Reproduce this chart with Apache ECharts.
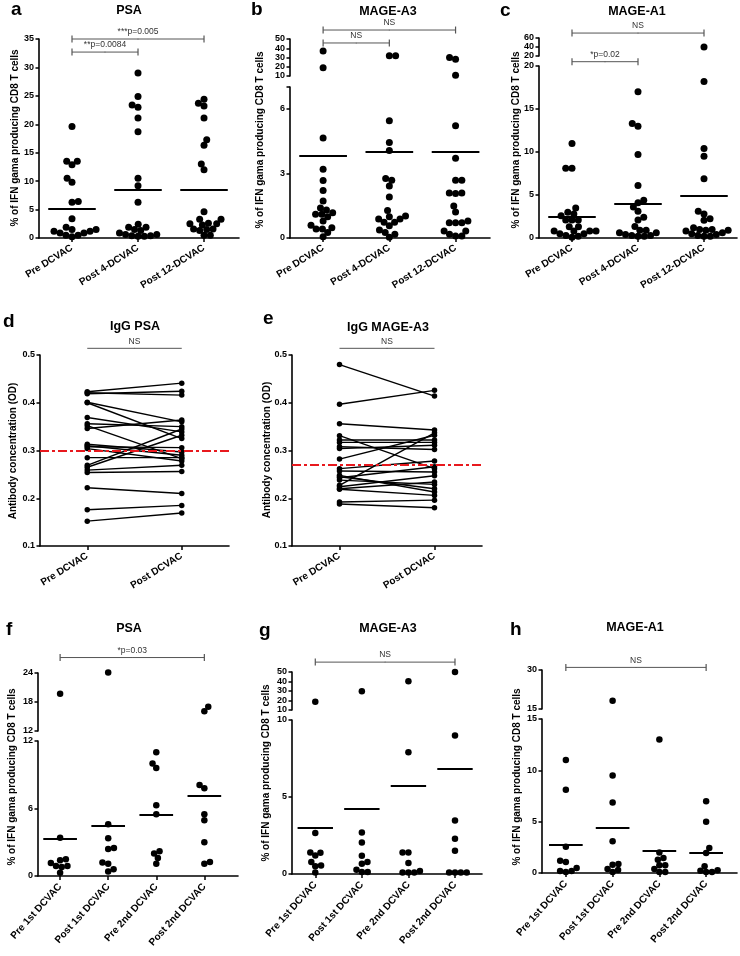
<!DOCTYPE html>
<html><head><meta charset="utf-8">
<script src="https://cdn.jsdelivr.net/npm/echarts@6/dist/echarts.min.js"></script>
<style>html,body{margin:0;padding:0;background:#fff}#c{width:740px;height:956px}</style>
</head><body><div id="c"></div>
<script>
// ---------------- DATA ----------------
const catsTop = ['Pre DCVAC', 'Post 4-DCVAC', 'Post 12-DCVAC'];
const catsMid = ['Pre DCVAC', 'Post DCVAC'];
const catsBot = ['Pre 1st DCVAC', 'Post 1st DCVAC', 'Pre 2nd DCVAC', 'Post 2nd DCVAC'];

// a: PSA
const aPre    = [19.6, 13.5, 12.9, 13.5, 10.5, 9.8, 6.4, 6.3, 3.4, 1.9, 1.5, 1.2, 0.9, 0.5, 0.2, 0.5, 0.9, 1.2, 1.5];
const aPost4  = [29.0, 24.9, 23.4, 23.0, 21.1, 18.7, 10.5, 9.2, 6.3, 2.4, 1.9, 1.9, 1.5, 0.9, 0.6, 0.4, 0.3, 0.3, 0.4, 0.6, 1.3];
const aPost12 = [24.4, 23.7, 23.2, 21.1, 17.3, 16.3, 13.0, 12.0, 4.6, 3.3, 3.3, 2.6, 2.5, 2.5, 2.3, 1.6, 1.5, 1.6, 1.3, 0.5, 0.5];
const aMeans  = [5.1, 8.5, 8.5];
const aTicks  = [0, 5, 10, 15, 20, 25, 30, 35];
const aBrackets = [[0, 2, 35, '***p=0.005'], [0, 1, 32.7, '**p=0.0084']];

// b: MAGE-A3
const bPre    = [37, 19, 4.64, 3.19, 2.67, 2.2, 1.71, 1.39, 1.3, 1.1, 0.99, 1.1, 1.17, 0.59, 0.48, 0.42, 0.42, 0.79, 0.26, 0.06];
const bPost4  = [32, 32, 5.43, 4.43, 4.06, 2.76, 2.68, 2.41, 1.9, 1.27, 0.88, 0.73, 0.99, 1.02, 0.88, 0.57, 0.73, 0.37, 0.25, 0.03, 0.17];
const bPost12 = [28, 30, 10.8, 5.2, 3.7, 2.68, 2.68, 2.09, 2.06, 2.09, 1.48, 1.2, 0.79, 0.71, 0.71, 0.71, 0.32, 0.17, 0.09, 0.09, 0.32];
const bMeans  = [3.83, 4.02, 4.02];
const bUpperTicks = [10, 20, 30, 40, 50];
const bLowerTicks = [0, 3, 6, 7];
const bLowerLabels = [0, 3, 6];
const bBrackets = [[0, 2, 59.7, 'NS', 'u'], [0, 1, 45.7, 'NS', 'u']];

// c: MAGE-A1
const cPre    = [11.0, 8.1, 8.1, 3.5, 3.0, 2.8, 2.6, 2.1, 2.1, 2.1, 1.3, 1.3, 0.8, 0.8, 0.8, 0.8, 0.5, 0.5, 0.3, 0.2, 0.1];
const cPost4  = [17.0, 13.3, 13.0, 9.7, 6.1, 4.4, 4.1, 3.6, 3.1, 2.4, 2.1, 1.35, 0.9, 0.9, 0.6, 0.6, 0.4, 0.3, 0.2, 0.2, 0.3];
const cPost12 = [40, 18.2, 10.4, 9.5, 6.9, 3.1, 2.8, 2.25, 2.05, 1.2, 1.0, 1.0, 0.9, 0.9, 0.8, 0.6, 0.5, 0.4, 0.3, 0.2, 0.2];
const cMeans  = [2.45, 4.0, 4.9];
const cUpperTicks = [20, 40, 60];
const cLowerTicks = [0, 5, 10, 15, 20];
const cBrackets = [[0, 2, 71, 'NS', 'u'], [0, 1, 20.5, '*p=0.02', 'l']];

// d: IgG PSA (paired)
const dPre  = [0.423, 0.421, 0.419, 0.401, 0.400, 0.369, 0.356, 0.352, 0.346, 0.313, 0.310, 0.308, 0.304, 0.285, 0.269, 0.265, 0.259, 0.254, 0.222, 0.176, 0.152];
const dPost = [0.441, 0.416, 0.424, 0.360, 0.325, 0.339, 0.350, 0.283, 0.364, 0.297, 0.290, 0.306, 0.278, 0.285, 0.345, 0.332, 0.269, 0.256, 0.210, 0.185, 0.169];
const dCut  = 0.303;
// e: IgG MAGE-A3 (paired)
const ePre  = [0.480, 0.397, 0.356, 0.331, 0.322, 0.317, 0.308, 0.304, 0.282, 0.262, 0.257, 0.248, 0.243, 0.238, 0.227, 0.224, 0.220, 0.219, 0.192, 0.188, 0.245];
const ePost = [0.414, 0.426, 0.343, 0.262, 0.322, 0.317, 0.302, 0.311, 0.332, 0.278, 0.255, 0.213, 0.266, 0.229, 0.337, 0.247, 0.234, 0.206, 0.196, 0.180, 0.220];
const eCut  = 0.265;
const odTicks = [0.1, 0.2, 0.3, 0.4, 0.5];
const nsPairY = 0.514;

// f: PSA (4 time points)
const fPre1  = [19.7, 3.4, 1.4, 1.5, 1.15, 0.9, 0.8, 0.9, 0.3];
const fPost1 = [24.1, 4.6, 3.35, 2.4, 2.5, 1.1, 1.2, 0.4, 0.6];
const fPre2  = [11.0, 9.6, 10.0, 6.3, 5.5, 2.2, 2.0, 1.6, 1.1];
const fPost2 = [16.1, 17.0, 8.1, 7.8, 5.5, 4.95, 3.0, 1.1, 1.25];
const fMeans = [3.3, 4.47, 5.48, 7.17];
const fUpperTicks = [12, 18, 24];
const fLowerTicks = [0, 6, 12];
const fBrackets = [[0, 3, 27.2, '*p=0.03', 'u']];

// g: MAGE-A3 (4 time points)
const gPre1  = [18.7, 2.66, 1.4, 1.38, 1.2, 0.78, 0.56, 0.5, 0.1];
const gPost1 = [29.8, 2.7, 2.05, 1.19, 0.78, 0.67, 0.28, 0.13, 0.13];
const gPre2  = [40.3, 7.9, 1.4, 1.4, 0.71, 0.1, 0.1, 0.1, 0.2];
const gPost2 = [50, 9.0, 3.48, 2.29, 1.51, 0.1, 0.1, 0.1, 0.1];
const gMeans = [2.98, 4.21, 5.75, 6.84];
const gUpperTicks = [10, 20, 30, 40, 50];
const gLowerTicks = [0, 5, 10];
const gBrackets = [[0, 3, 60.4, 'NS', 'u']];

// h: MAGE-A1 (4 time points)
const hPre1  = [11.0, 8.1, 2.56, 1.2, 1.07, 0.49, 0.2, 0.1, 0.2];
const hPost1 = [18.2, 9.5, 6.87, 3.1, 0.87, 0.8, 0.39, 0.1, 0.3];
const hPre2  = [13.0, 2.0, 1.46, 1.3, 0.75, 0.75, 0.39, 0.1, 0.1];
const hPost2 = [7.0, 5.0, 2.43, 1.95, 0.65, 0.1, 0.1, 0.26, 0.23];
const hMeans = [2.79, 4.44, 2.2, 1.94];
const hUpperTicks = [15, 30];
const hLowerTicks = [0, 5, 10, 15];
const hBrackets = [[0, 3, 31, 'NS', 'u']];

const yLabelT = '% of IFN gama producing CD8 T cells';
const yLabelOD = 'Antibody concentration (OD)';

// ---------------- BUILD ----------------
const FF = '"Liberation Sans", Arial, Helvetica, sans-serif';
const grids = [], xAxes = [], yAxes = [], series = [], graphics = [];

function addGrid(left, top, width, height, xCfg, yCfg) {
  const gi = grids.length;
  grids.push({ left, top, width, height, containLabel: false, outerBoundsMode: 'none' });
  xAxes.push(Object.assign({ gridIndex: gi, type: 'value' }, xCfg));
  yAxes.push(Object.assign({ gridIndex: gi, type: 'value' }, yCfg));
  return gi;
}
function xAxisCfg(min, max, cats, rotate, show) {
  const vals = cats.map((c, i) => i);
  return {
    min, max, show,
    axisLine: { show: true, onZero: false, lineStyle: { color: '#000', width: 1.6 } },
    axisTick: { show: true, customValues: vals, length: 4, lineStyle: { color: '#000', width: 1.5 } },
    axisLabel: { show: true, customValues: vals, formatter: v => cats[Math.round(v)], rotate, margin: 9,
      color: '#000', fontSize: 10, fontWeight: 'bold', fontFamily: FF },
    splitLine: { show: false }
  };
}
function yAxisCfg(min, max, ticks, labels, fmt) {
  return {
    min, max,
    axisLine: { show: true, onZero: false, lineStyle: { color: '#000', width: 1.6 } },
    axisTick: { show: true, customValues: ticks, length: 3.5, lineStyle: { color: '#000', width: 1.5 } },
    axisLabel: { show: true, customValues: labels, formatter: fmt || (v => String(v)), margin: 5,
      color: '#000', fontSize: 9, fontWeight: 'bold', fontFamily: FF },
    splitLine: { show: false }
  };
}
function swarm(pys, D) {
  const idx = pys.map((p, i) => i).sort((a, b) => pys[b] - pys[a]);
  const placed = [], res = new Array(pys.length).fill(0);
  let side = 1;
  for (const i of idx) {
    const y = pys[i];
    const cands = [0];
    for (const p of placed) {
      const dy = Math.abs(p.y - y);
      if (dy < D) { const h = Math.sqrt(D * D - dy * dy); cands.push(p.x + h, p.x - h); }
    }
    const ok = cands.filter(x => placed.every(p => (p.x - x) ** 2 + (p.y - y) ** 2 >= D * D - 1e-6));
    ok.sort((a, b) => {
      const d = Math.abs(a) - Math.abs(b);
      if (Math.abs(d) > 1e-6) return d;
      return side > 0 ? b - a : a - b;
    });
    const x = ok[0];
    if (Math.abs(x) > 1e-6) side = x > 0 ? -1 : 1;
    res[i] = x; placed.push({ x, y });
  }
  return res;
}
function addBracket(gi, from, to, y, text, ends) {
  const endSym = ends ? { symbol: 'rect', symbolSize: [1.2, 7] } : { symbol: 'none' };
  series.push({
    type: 'line', xAxisIndex: gi, yAxisIndex: gi, clip: false, silent: true, z: 5, animation: false,
    lineStyle: { color: '#555', width: 1 }, itemStyle: { color: '#555', opacity: 1 }, label: { show: false },
    data: [
      Object.assign({ value: [from, y] }, endSym),
      { value: [(from + to) / 2, y], symbol: 'circle', symbolSize: 1,
        label: { show: true, position: 'top', distance: 2, formatter: text, color: '#333', fontSize: 8.5, fontFamily: FF } },
      Object.assign({ value: [to, y] }, endSym)
    ]
  });
}
function scatterPanel(P) {
  const lo = P.lower, up = P.upper;
  let giU = null;
  if (up) giU = addGrid(P.left, up.top, P.width, up.height,
    xAxisCfg(P.xMin, P.xMax, P.cats, P.rotate, false), yAxisCfg(up.min, up.max, up.ticks, up.labels || up.ticks));
  const giL = addGrid(P.left, lo.top, P.width, lo.height,
    xAxisCfg(P.xMin, P.xMax, P.cats, P.rotate, true), yAxisCfg(lo.min, lo.max, lo.ticks, lo.labels || lo.ticks));
  const pxPerX = P.width / (P.xMax - P.xMin);
  const ptsL = [], ptsU = [];
  P.groups.forEach((vals, g) => {
    const isUp = v => !!up && v > lo.max;
    const py = vals.map(v => isUp(v)
      ? up.top + up.height - (v - up.min) / (up.max - up.min) * up.height
      : lo.top + lo.height - (v - lo.min) / (lo.max - lo.min) * lo.height);
    const dx = swarm(py, P.size * 0.9);
    vals.forEach((v, k) => { (isUp(v) ? ptsU : ptsL).push([g + dx[k] / pxPerX, v]); });
  });
  const meanLines = P.means.map((m, i) => [{ coord: [i - P.half, m] }, { coord: [i + P.half, m] }]);
  const sc = { type: 'scatter', symbolSize: P.size, itemStyle: { color: '#000', opacity: 1 }, clip: false, silent: true, animation: false };
  series.push(Object.assign({}, sc, { xAxisIndex: giL, yAxisIndex: giL, data: ptsL,
    markLine: { silent: true, animation: false, symbol: ['none', 'none'], label: { show: false },
      lineStyle: { color: '#000', width: 2, type: 'solid', opacity: 1 }, data: meanLines } }));
  if (up) series.push(Object.assign({}, sc, { xAxisIndex: giU, yAxisIndex: giU, data: ptsU }));
  P.brackets.forEach(b => addBracket(b[4] === 'u' ? giU : giL, b[0], b[1], b[2], b[3], true));
}
function pairedPanel(P) {
  const gi = addGrid(P.left, P.top, P.width, P.height, xAxisCfg(-0.5, 1.5, catsMid, 32, true),
    yAxisCfg(0.1, 0.5, odTicks, odTicks, v => v.toFixed(1)));
  P.pre.forEach((v, i) => series.push({
    type: 'line', xAxisIndex: gi, yAxisIndex: gi, data: [[0, v], [1, P.post[i]]], symbol: 'circle', symbolSize: 5.5,
    lineStyle: { color: '#000', width: 1.4 }, itemStyle: { color: '#000', opacity: 1 }, silent: true, animation: false
  }));
  series.push({
    type: 'line', xAxisIndex: gi, yAxisIndex: gi, data: [[0, P.cut]], symbol: 'none', z: 10, silent: true, animation: false,
    markLine: { silent: true, animation: false, symbol: ['none', 'none'], label: { show: false },
      lineStyle: { color: '#e8191e', width: 2, type: [9, 3, 3, 3], opacity: 1 }, data: [{ yAxis: P.cut }] }
  });
  addBracket(gi, 0, 1, nsPairY, 'NS', false);
}
function txt(text, x, y, font, align, rot) {
  graphics.push({ type: 'text', x, y, rotation: rot || 0, silent: true,
    style: { text, x: 0, y: 0, font, fill: '#000', textAlign: align || 'center', textVerticalAlign: 'middle' } });
}

// Row 1
scatterPanel({ left: 39, width: 200, xMin: -0.5, xMax: 2.53, cats: catsTop, rotate: 32, size: 7, half: 0.36,
  groups: [aPre, aPost4, aPost12], means: aMeans, brackets: aBrackets,
  lower: { top: 39, height: 199, min: 0, max: 35, ticks: aTicks } });
scatterPanel({ left: 290, width: 200, xMin: -0.5, xMax: 2.52, cats: catsTop, rotate: 32, size: 7, half: 0.36,
  groups: [bPre, bPost4, bPost12], means: bMeans, brackets: bBrackets,
  upper: { top: 39, height: 37, min: 10, max: 50, ticks: bUpperTicks },
  lower: { top: 87, height: 151, min: 0, max: 7, ticks: bLowerTicks, labels: bLowerLabels } });
scatterPanel({ left: 539, width: 198, xMin: -0.5, xMax: 2.5, cats: catsTop, rotate: 32, size: 7, half: 0.36,
  groups: [cPre, cPost4, cPost12], means: cMeans, brackets: cBrackets,
  upper: { top: 38, height: 18, min: 20, max: 60, ticks: cUpperTicks },
  lower: { top: 66, height: 172, min: 0, max: 20, ticks: cLowerTicks } });
// Row 2
pairedPanel({ left: 40, top: 355, width: 189, height: 191, pre: dPre, post: dPost, cut: dCut });
pairedPanel({ left: 292, top: 355, width: 190, height: 191, pre: ePre, post: ePost, cut: eCut });
// Row 3
scatterPanel({ left: 38, width: 200, xMin: -0.46, xMax: 3.7, cats: catsBot, rotate: 48, size: 6.5, half: 0.35,
  groups: [fPre1, fPost1, fPre2, fPost2], means: fMeans, brackets: fBrackets,
  upper: { top: 673, height: 58, min: 12, max: 24, ticks: fUpperTicks },
  lower: { top: 741, height: 135, min: 0, max: 12, ticks: fLowerTicks } });
scatterPanel({ left: 292, width: 190, xMin: -0.5, xMax: 3.58, cats: catsBot, rotate: 48, size: 6.5, half: 0.38,
  groups: [gPre1, gPost1, gPre2, gPost2], means: gMeans, brackets: gBrackets,
  upper: { top: 672, height: 38, min: 10, max: 50, ticks: gUpperTicks },
  lower: { top: 720, height: 154, min: 0, max: 10, ticks: gLowerTicks } });
scatterPanel({ left: 542, width: 195, xMin: -0.51, xMax: 3.66, cats: catsBot, rotate: 48, size: 6.5, half: 0.36,
  groups: [hPre1, hPost1, hPre2, hPost2], means: hMeans, brackets: hBrackets,
  upper: { top: 670, height: 39, min: 15, max: 30, ticks: hUpperTicks },
  lower: { top: 719, height: 154, min: 0, max: 15, ticks: hLowerTicks } });

// Texts
const LET = 'bold 19px ' + FF, TIT = 'bold 12.5px ' + FF, YL = 'bold 10px ' + FF;
txt('a', 11, 10, LET, 'left'); txt('PSA', 129, 11, TIT);
txt('b', 251, 10, LET, 'left'); txt('MAGE-A3', 388, 12, TIT);
txt('c', 500, 11, LET, 'left'); txt('MAGE-A1', 637, 12, TIT);
txt('d', 3, 322, LET, 'left'); txt('IgG PSA', 135, 327, TIT);
txt('e', 263, 319, LET, 'left'); txt('IgG MAGE-A3', 388, 328, TIT);
txt('f', 6, 630, LET, 'left'); txt('PSA', 129, 629, TIT);
txt('g', 259, 631, LET, 'left'); txt('MAGE-A3', 388, 629, TIT);
txt('h', 510, 630, LET, 'left'); txt('MAGE-A1', 635, 628, TIT);
const R = Math.PI / 2;
txt(yLabelT, 15, 138, YL, 'center', R);
txt(yLabelT, 260, 140, YL, 'center', R);
txt(yLabelT, 516, 140, YL, 'center', R);
txt(yLabelOD, 13, 451, YL, 'center', R);
txt(yLabelOD, 267, 450, YL, 'center', R);
txt(yLabelT, 12, 777, YL, 'center', R);
txt(yLabelT, 266, 773, YL, 'center', R);
txt(yLabelT, 517, 777, YL, 'center', R);

const chart = echarts.init(document.getElementById('c'), null, { renderer: 'canvas' });
chart.setOption({
  animation: false,
  backgroundColor: '#fff',
  textStyle: { fontFamily: FF },
  grid: grids, xAxis: xAxes, yAxis: yAxes, series, graphic: graphics
});
</script></body></html>
